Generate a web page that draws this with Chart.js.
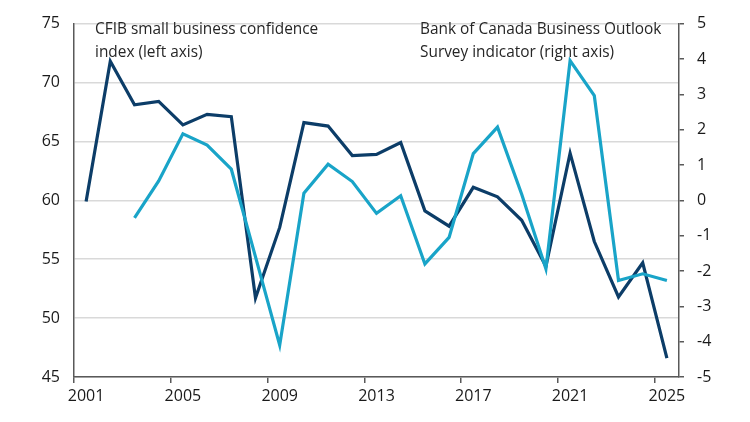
<!DOCTYPE html>
<html>
<head>
<meta charset="utf-8">
<script src="https://cdn.jsdelivr.net/npm/chart.js@4.4.1/dist/chart.umd.min.js"></script>
<style>
  html, body { margin: 0; padding: 0; background: #fff; }
  #wrap { width: 750px; height: 422px; position: relative; }
</style>
</head>
<body>
<div id="wrap"><canvas id="confChart"></canvas></div>
<script>
// years (each point sits in the middle of its year band)
var years = [2001, 2002, 2003, 2004, 2005, 2006, 2007, 2008, 2009, 2010, 2011, 2012, 2013,
             2014, 2015, 2016, 2017, 2018, 2019, 2020, 2021, 2022, 2023, 2024, 2025];
// CFIB small business confidence index (left axis)
var cfib = [59.9, 71.8, 68.1, 68.4, 66.4, 67.3, 67.1, 51.7, 57.7, 66.6, 66.3, 63.8, 63.9,
            64.9, 59.1, 57.8, 61.1, 60.3, 58.3, 54.4, 64.0, 56.5, 51.8, 54.7, 46.6];
// Bank of Canada BOS indicator (right axis)
var bos = [null, null, -0.5, 0.55, 1.88, 1.56, 0.88, -1.6, -4.1, 0.2, 1.02, 0.53, -0.37,
           0.13, -1.8, -1.05, 1.32, 2.07, 0.17, -1.94, 3.95, 2.96, -2.27, -2.08, -2.27];
var xTickLabels = ["2001", "2005", "2009", "2013", "2017", "2021", "2025"];

var navy = "#0c3d68";
var lightBlue = "#19a4c8";
var axisGrey = "#595959";
var fontFam = "'Open Sans', 'Noto Sans', sans-serif";

// the two series notes written inside the plot
var notesPlugin = {
    id: "notes",
    afterDraw: function (chart) {
        var ctx = chart.ctx;
        ctx.save();
        ctx.fillStyle = "#262626";
        ctx.font = "15.4px " + fontFam;
        ctx.textBaseline = "middle";
        ctx.textAlign = "left";
        ctx.fillText("CFIB small business confidence", 95, 30);
        ctx.fillText("index (left axis)", 95, 53);
        ctx.fillText("Bank of Canada Business Outlook", 420, 30);
        ctx.fillText("Survey indicator (right axis)", 420, 53);
        ctx.restore();
    }
};

new Chart(document.getElementById("confChart"), {
    type: "line",
    data: {
        labels: years,
        datasets: [
            {
                label: "CFIB small business confidence index",
                data: cfib,
                yAxisID: "yL",
                borderColor: navy,
                borderWidth: 3.2,
                pointRadius: 0,
                tension: 0,
                order: 2
            },
            {
                label: "Bank of Canada Business Outlook Survey indicator",
                data: bos,
                yAxisID: "yR",
                borderColor: lightBlue,
                borderWidth: 3.2,
                pointRadius: 0,
                tension: 0,
                spanGaps: false,
                order: 1
            }
        ]
    },
    options: {
        responsive: true,
        maintainAspectRatio: false,
        animation: false,
        layout: { padding: { top: 22, left: 0, right: 0, bottom: 0 } },
        plugins: {
            legend: { display: false },
            tooltip: { enabled: false }
        },
        scales: {
            x: {
                type: "category",
                offset: true,
                grid: {
                    offset: true,
                    drawOnChartArea: false,
                    drawTicks: true,
                    tickLength: 6,
                    lineWidth: 1.5,
                    color: function (c) {
                        return c.tick && c.tick.label !== "" ? axisGrey : "rgba(0,0,0,0)";
                    }
                },
                border: { display: true, color: axisGrey, width: 1.5 },
                ticks: {
                    autoSkip: false,
                    maxRotation: 0,
                    padding: 4,
                    color: "#1a1a1a",
                    font: { family: fontFam, size: 16 },
                    callback: function (val) {
                        var lab = String(this.getLabelForValue(val));
                        return xTickLabels.indexOf(lab) >= 0 ? lab : "";
                    }
                },
                afterFit: function (s) { s.height = 45; }
            },
            yL: {
                position: "left",
                min: 45,
                max: 75,
                ticks: {
                    stepSize: 5,
                    padding: 14,
                    color: "#1a1a1a",
                    font: { family: fontFam, size: 16 }
                },
                grid: {
                    drawTicks: false,
                    color: "#d9d9d9",
                    lineWidth: 1.5
                },
                border: { display: true, color: axisGrey, width: 1.5 },
                afterFit: function (s) { s.width = 74; }
            },
            yR: {
                position: "right",
                min: -5,
                max: 5,
                ticks: {
                    stepSize: 1,
                    padding: 13,
                    color: "#1a1a1a",
                    font: { family: fontFam, size: 16 }
                },
                grid: {
                    drawOnChartArea: false,
                    drawTicks: true,
                    tickLength: 5,
                    color: axisGrey,
                    lineWidth: 1.5
                },
                border: { display: true, color: axisGrey, width: 1.5 },
                afterFit: function (s) { s.width = 71; }
            }
        }
    },
    plugins: [notesPlugin]
});
</script>
</body>
</html>
